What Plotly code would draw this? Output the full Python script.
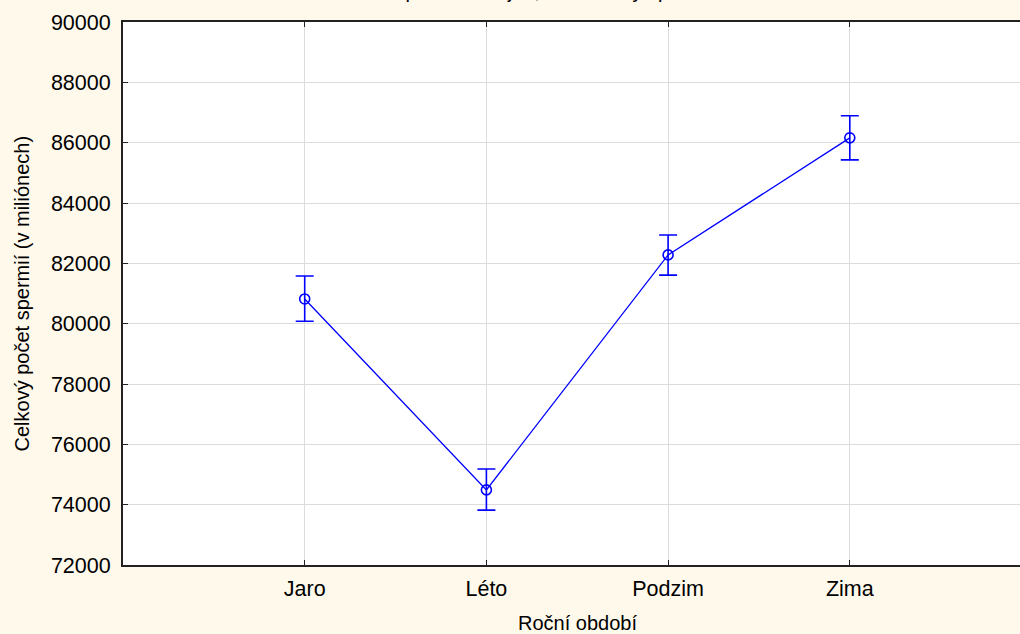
import plotly.graph_objects as go

categories = ["Jaro", "Léto", "Podzim", "Zima"]
means = [80820, 74490, 82280, 86160]
err_upper = [760, 690, 660, 730]
err_lower = [740, 670, 670, 730]
y_ticks = [72000, 74000, 76000, 78000, 80000, 82000, 84000, 86000, 88000, 90000]

title_text = "Svislé sloupce označují 0,95 intervaly spolehlivosti"
x_title = "Roční období"
y_title = "Celkový počet spermií (v miliónech)"

W, H = 1020, 634
L, R, T, B = 123, 0, 22, 69
plot_w = W - L - R

blue = "#0000FF"
font = "Liberation Sans, Arial, sans-serif"
fs = 21.5

fig = go.Figure()
fig.add_trace(go.Scatter(
    x=list(range(len(categories))),
    y=means,
    mode="lines+markers",
    line=dict(color=blue, width=1.3),
    marker=dict(symbol="circle-open", size=10, color=blue, line=dict(width=1.6, color=blue)),
    error_y=dict(type="data", symmetric=False, array=err_upper, arrayminus=err_lower,
                 color=blue, thickness=1.6, width=9),
    showlegend=False,
))

x_left = -1.0
x_right = x_left + plot_w / 181.7

fig.update_layout(
    width=W, height=H,
    margin=dict(l=L, r=R, t=T, b=B),
    paper_bgcolor="#FFF9EC",
    plot_bgcolor="#FFFFFF",
    font=dict(family=font, size=fs, color="#000000"),
    xaxis=dict(
        range=[x_left, x_right],
        tickmode="array",
        tickvals=list(range(len(categories))),
        ticktext=categories,
        showgrid=True, gridcolor="#DCDCDC", gridwidth=1,
        showline=True, linecolor="#222222", linewidth=2,
        ticks="inside", ticklen=5, tickcolor="#222222",
        mirror="ticks",
        zeroline=False,
        tickfont=dict(size=fs),
        ticklabelstandoff=3,
    ),
    yaxis=dict(
        range=[72000, 90000],
        tickmode="array",
        tickvals=y_ticks,
        ticktext=[str(v) for v in y_ticks],
        showgrid=True, gridcolor="#DCDCDC", gridwidth=1,
        showline=True, linecolor="#222222", linewidth=2,
        ticks="inside", ticklen=5, tickcolor="#222222",
        zeroline=False,
        tickfont=dict(size=fs),
        ticklabelstandoff=6,
    ),
    annotations=[
        dict(text=x_title, xref="paper", yref="paper",
             x=(577 - L) / plot_w, y=0, yshift=-45, xanchor="center", yanchor="top",
             showarrow=False, font=dict(size=20)),
        dict(text=y_title, xref="paper", yref="paper",
             x=0, xshift=-(L - 8), y=0.5, xanchor="left", yanchor="middle",
             textangle=-90, showarrow=False, font=dict(size=20)),
        dict(text=title_text, xref="paper", yref="paper",
             x=(533 - L) / plot_w, y=1, yshift=17.5, xanchor="center", yanchor="bottom",
             showarrow=False, font=dict(size=20)),
    ],
)

fig.write_html("out.html", config={"displayModeBar": False})

# remove default page margin so the figure fills the window exactly
with open("out.html", "r", encoding="utf-8") as f:
    html = f.read()
html = html.replace("<head>", "<head><style>html,body{margin:0;padding:0;overflow:hidden;}</style>", 1)
with open("out.html", "w", encoding="utf-8") as f:
    f.write(html)
